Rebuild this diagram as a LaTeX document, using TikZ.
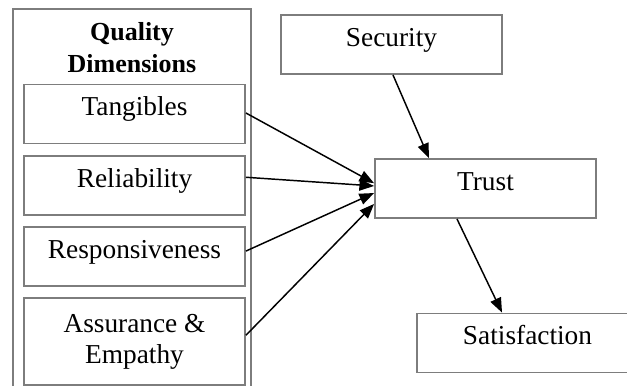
\documentclass[tikz,border=0pt]{standalone}
\usepackage{fontspec}
\setmainfont{Liberation Serif}
\usepackage{xcolor}
\usepackage{tikz}
\usetikzlibrary{arrows.meta,positioning}
\definecolor{cFrame}{RGB}{125,125,125}
\tikzset{
  box/.style={draw=cFrame, line width=1.4pt, fill=white, align=center,
              minimum width=165.75pt, inner xsep=2pt, inner ysep=0pt,
              text height=23.5pt, text depth=20.75pt,
              font=\fontsize{20.5}{23.5}\selectfont},
  bigbox/.style={box, text height=, text depth=, minimum height=65.25pt},
  frame/.style={draw=cFrame, line width=1.4pt},
  hdr/.style={align=center, inner sep=0pt,
              font=\fontsize{19.5}{24.5}\selectfont\bfseries},
  arr/.style={-{Triangle[length=11pt,width=8.5pt]}, line width=1.1pt},
}

\begin{document}
\begin{tikzpicture}[x=0.75pt, y=-0.75pt, node distance=7.8pt]
  \clip (0,0) rectangle (627,385);
  \fill[white] (0,0) rectangle (627,385);

  % ---- left: quality dimensions ----
  \draw[frame] (13,9) rectangle (251,400);
  \node[hdr] (qhead) at (132,47.5) {Quality\\Dimensions};
  \node[box] (tang) at (134.5,114) {Tangibles};
  \node[box, below=of tang] (rel) {Reliability};
  \node[box, below=of rel] (resp) {Responsiveness};
  \node[bigbox, below=of resp] (assur) {Assurance \&\\Empathy};

  % ---- right: security, trust, satisfaction ----
  \node[box] (sec) at (391.5,44.5) {Security};
  \node[box] (trust) at (485.5,188.5) {Trust};
  \node[box] (sat) at (527.5,343) {Satisfaction};

  \draw[arr] ([yshift=0.75pt]tang.east) -- ([yshift=4pt]trust.west);
  \draw[arr] ([yshift=6pt]rel.east) -- ([yshift=1.9pt]trust.west);
  \draw[arr] ([yshift=4.1pt]resp.east) -- ([yshift=-3.4pt]trust.west);
  \draw[arr] ([yshift=4.9pt]assur.east) -- ([yshift=-11.6pt]trust.west);
  \draw[arr] ([xshift=1.1pt]sec.south) -- ([xshift=-42.4pt]trust.north);
  \draw[arr] ([xshift=-21.4pt]trust.south) -- ([xshift=-19.1pt]sat.north);
\end{tikzpicture}
\end{document}
